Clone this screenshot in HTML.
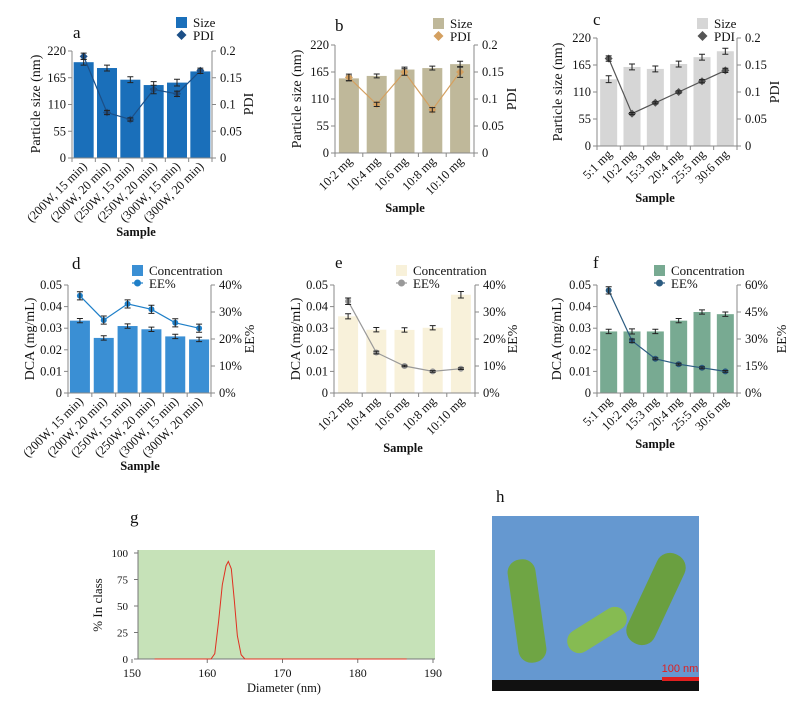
<!DOCTYPE html>
<html><head><meta charset="utf-8"><style>
html,body{margin:0;padding:0;background:#fff;}
svg{display:block;font-family:"Liberation Serif",serif;}
</style></head><body>
<svg id="fig" width="801" height="701" viewBox="0 0 801 701"></svg>
<script>
// ---------- data ----------
const aCats=["(200W, 15 min)","(200W, 20 min)","(250W, 15 min)","(250W, 20 min)","(300W, 15 min)","(300W, 20 min)"];
const aSize=[197,185,161,150,155,178];
const aSizeErr=[6,6,6,7,7,4];
const aPdi=[0.19,0.085,0.072,0.128,0.12,0.163];
const aPdiErr=[0.006,0.004,0.003,0.008,0.005,0.005];

const bCats=["10:2 mg","10:4 mg","10:6 mg","10:8 mg","10:10 mg"];
const bSize=[152,157,170,173,181];
const bSizeErr=[5,4,5,4,6];
const bPdi=[0.14,0.09,0.15,0.08,0.15];
const bPdiErr=[0.006,0.004,0.006,0.004,0.01];

const cCats=["5:1 mg","10:2 mg","15:3 mg","20:4 mg","25:5 mg","30:6 mg"];
const cSize=[136,161,157,167,181,193];
const cSizeErr=[7,6,6,6,6,6];
const cPdi=[0.162,0.06,0.08,0.1,0.12,0.14];
const cPdiErr=[0.005,0.002,0.002,0.002,0.003,0.004];

const dCats=aCats;
const dConc=[0.0335,0.0255,0.031,0.0295,0.0262,0.0248];
const dConcErr=[0.001,0.001,0.001,0.001,0.001,0.001];
const dEE=[36,27,33,31,26,24];
const dEEErr=[1.5,1.5,1.5,1.5,1.5,1.5];

const eCats=bCats;
const eConc=[0.0355,0.0293,0.0292,0.0302,0.0455];
const eConcErr=[0.0012,0.001,0.001,0.001,0.0015];
const eEE=[34,15,10,8,9];
const eEEErr=[1.2,0.5,0.3,0.3,0.3];

const fCats=cCats;
const fConc=[0.0285,0.0285,0.0285,0.0335,0.0375,0.0365];
const fConcErr=[0.001,0.0012,0.001,0.001,0.001,0.001];
const fEE=[57,29,19,16,14,12];
const fEEErr=[2,1,0.5,0.5,0.5,0.5];

const gX=[153,160.5,161,161.5,162,162.5,162.8,163.2,163.6,164,164.5,165,170,186.5];
const gY=[0,0,5,35,70,88,92,85,55,22,4,0,0,0];
const gXTicks=[150,160,170,180,190];
const gYTicks=[0,25,50,75,100];

// ---------- helpers ----------
const NS="http://www.w3.org/2000/svg";
const svg=document.getElementById('fig');
function mk(tag,attrs,parent,txt){const e=document.createElementNS(NS,tag);for(const k in attrs)e.setAttribute(k,attrs[k]);if(txt!==undefined)e.textContent=txt;(parent||svg).appendChild(e);return e;}

function panel(c){
  const g=mk('g',{});
  
  
  const yL=v=>c.yBot-(v/c.lMax)*(c.yBot-c.yTop);
  const yR=v=>c.yBot-(v/c.rMax)*(c.yBot-c.yTop);
  const n=c.cats.length;
  const step=(c.xR-c.xL)/n;
  const xC=i=>c.xL+step*(i+0.5);
  c.bars.forEach((v,i)=>{
    const r=mk('rect',{x:xC(i)-c.bw/2,y:yL(v),width:c.bw,height:c.yBot-yL(v),fill:c.barColor},g);
    
    
    const e=c.barErr[i];
    mk('path',{d:`M${xC(i)},${yL(v+e)}V${yL(v-e)}M${xC(i)-3},${yL(v+e)}h6M${xC(i)-3},${yL(v-e)}h6`,stroke:'#222','stroke-width':1,fill:'none'},g);
  });
  const ax=mk('g',{stroke:'#888','stroke-width':1,fill:'none'},g);
  mk('path',{d:`M${c.xL},${c.yTop}V${c.yBot}H${c.xR}V${c.yTop}`},ax);
  c.lTicks.forEach(t=>{const y=yL(t);mk('path',{d:`M${c.xL-4},${y}H${c.xL}`},ax);
    mk('text',{x:c.xL-6,y:y+4,'text-anchor':'end','font-size':12.5,fill:'#111'},g,c.lFmt(t));});
  c.rTicks.forEach(t=>{const y=yR(t);mk('path',{d:`M${c.xR},${y}H${c.xR+4}`},ax);
    mk('text',{x:c.xR+8,y:y+4,'text-anchor':'start','font-size':12.5,fill:'#111'},g,c.rFmt(t));});
  for(let i=0;i<=n;i++){mk('path',{d:`M${c.xL+step*i},${c.yBot}v4`},ax);}
  const pts=c.line.map((v,i)=>`${xC(i)},${yR(v)}`).join(' ');
  const pl=mk('polyline',{points:pts,fill:'none',stroke:c.lineColor,'stroke-width':1.2},g);
  
  
  c.line.forEach((v,i)=>{
    const x=xC(i),y=yR(v);
    if(c.marker==='diamond'){const m=mk('path',{d:`M${x},${y-4}l4,4l-4,4l-4,-4z`,fill:c.lineColor},g);
      
      }
    else{const m=mk('circle',{cx:x,cy:y,r:3,fill:c.lineColor},g);
      
      }
    const e=c.lineErr[i];
    mk('path',{d:`M${x},${yR(v+e)}V${yR(v-e)}M${x-3},${yR(v+e)}h6M${x-3},${yR(v-e)}h6`,stroke:'#222','stroke-width':1,fill:'none'},g);
  });
  c.cats.forEach((t,i)=>{
    const x=xC(i)+4,y=c.yBot+9;
    const tx=mk('text',{x:x,y:y,'text-anchor':'end','font-size':12.5,fill:'#111',transform:`rotate(-45 ${x} ${y})`},g,t);
    
    
  });
  const s=mk('text',{x:c.sample[0],y:c.sample[1],'text-anchor':'middle','font-size':12.5,'font-weight':'bold',fill:'#111'},g,'Sample');
  
  
  const ly=mk('text',{x:c.lLab[0],y:c.lLab[1],'text-anchor':'middle','font-size':14,fill:'#111',transform:`rotate(-90 ${c.lLab[0]} ${c.lLab[1]})`},g,c.lTitle);
  
  
  const ry=mk('text',{x:c.rLab[0],y:c.rLab[1],'text-anchor':'middle','font-size':14,fill:'#111',transform:`rotate(-90 ${c.rLab[0]} ${c.rLab[1]})`},g,c.rTitle);
  
  
  const tt=mk('text',{x:c.title[0],y:c.title[1],'font-size':17,fill:'#111'},g,c.id);
  
  
  const [lx,lyy]=c.legend;
  const lg=mk('g',{},g);
  
  
  mk('rect',{x:lx,y:lyy-5,width:11,height:11,fill:c.barColor},lg);
  mk('text',{x:lx+17,y:lyy+5,'font-size':13,fill:'#111'},lg,c.leg1);
  if(c.marker==='diamond') mk('path',{d:`M${lx+5.5},${lyy+8}l5,5l-5,5l-5,-5z`,fill:c.lineColor},lg);
  else{mk('path',{d:`M${lx},${lyy+13}h11`,stroke:c.lineColor,'stroke-width':1.2},lg);mk('circle',{cx:lx+5.5,cy:lyy+13,r:3.5,fill:c.lineColor},lg);}
  mk('text',{x:lx+17,y:lyy+18,'font-size':13,fill:'#111'},lg,c.leg2);
}
const fmt=t=>String(t);
const pct=t=>t+'%';

panel({id:'a',xL:72,xR:212,yTop:51,yBot:158,lMax:220,rMax:0.2,lTicks:[0,55,110,165,220],rTicks:[0,0.05,0.1,0.15,0.2],lFmt:fmt,rFmt:fmt,
 cats:aCats,bars:aSize,barErr:aSizeErr,line:aPdi,lineErr:aPdiErr,bw:20,barColor:'#1a6fba',lineColor:'#1c4f87',marker:'diamond',
 sample:[136,236],lLab:[40,104],rLab:[253,104],lTitle:'Particle size (nm)',rTitle:'PDI',title:[73,38],legend:[176,22],leg1:'Size',leg2:'PDI'});
panel({id:'b',xL:335,xR:474,yTop:45,yBot:153,lMax:220,rMax:0.2,lTicks:[0,55,110,165,220],rTicks:[0,0.05,0.1,0.15,0.2],lFmt:fmt,rFmt:fmt,
 cats:bCats,bars:bSize,barErr:bSizeErr,line:bPdi,lineErr:bPdiErr,bw:20,barColor:'#bfb89a',lineColor:'#d4a060',marker:'diamond',
 sample:[405,212],lLab:[301,99],rLab:[516,99],lTitle:'Particle size (nm)',rTitle:'PDI',title:[335,31],legend:[433,23],leg1:'Size',leg2:'PDI'});
panel({id:'c',xL:597,xR:737,yTop:38,yBot:146,lMax:220,rMax:0.2,lTicks:[0,55,110,165,220],rTicks:[0,0.05,0.1,0.15,0.2],lFmt:fmt,rFmt:fmt,
 cats:cCats,bars:cSize,barErr:cSizeErr,line:cPdi,lineErr:cPdiErr,bw:17,barColor:'#d6d6d6',lineColor:'#555',marker:'diamond',
 sample:[655,202],lLab:[562,92],rLab:[779,92],lTitle:'Particle size (nm)',rTitle:'PDI',title:[593,25],legend:[697,23],leg1:'Size',leg2:'PDI'});
panel({id:'d',xL:68,xR:211,yTop:285,yBot:393,lMax:0.05,rMax:40,lTicks:[0,0.01,0.02,0.03,0.04,0.05],rTicks:[0,10,20,30,40],lFmt:fmt,rFmt:pct,
 cats:dCats,bars:dConc,barErr:dConcErr,line:dEE,lineErr:dEEErr,bw:20,barColor:'#3a8fd4',lineColor:'#1e7fc8',marker:'circle',
 sample:[140,470],lLab:[34,339],rLab:[254,339],lTitle:'DCA  (mg/mL)',rTitle:'EE%',title:[72,269],legend:[132,270],leg1:'Concentration',leg2:'EE%'});
panel({id:'e',xL:334,xR:475,yTop:285,yBot:393,lMax:0.05,rMax:40,lTicks:[0,0.01,0.02,0.03,0.04,0.05],rTicks:[0,10,20,30,40],lFmt:fmt,rFmt:pct,
 cats:eCats,bars:eConc,barErr:eConcErr,line:eEE,lineErr:eEEErr,bw:20,barColor:'#f8f1da',lineColor:'#999',marker:'circle',
 sample:[403,452],lLab:[300,339],rLab:[517,339],lTitle:'DCA (mg/mL)',rTitle:'EE%',title:[335,268],legend:[396,270],leg1:'Concentration',leg2:'EE%'});
panel({id:'f',xL:597,xR:737,yTop:285,yBot:393,lMax:0.05,rMax:60,lTicks:[0,0.01,0.02,0.03,0.04,0.05],rTicks:[0,15,30,45,60],lFmt:fmt,rFmt:pct,
 cats:fCats,bars:fConc,barErr:fConcErr,line:fEE,lineErr:fEEErr,bw:17,barColor:'#78aa92',lineColor:'#2b5b80',marker:'circle',
 sample:[655,448],lLab:[561,339],rLab:[786,339],lTitle:'DCA (mg/mL)',rTitle:'EE%',title:[593,268],legend:[654,270],leg1:'Concentration',leg2:'EE%'});

// ---------- panel g ----------
(function(){
  const g=mk('g',{});
  
  
  const x0=132,x1=433,yT=553,yB=659;
  const xs=v=>x0+(v-150)/40*(x1-x0);
  const ys=v=>yB-v/100*(yB-yT);
  mk('rect',{x:138,y:550,width:297,height:109,fill:'#c6e2b8'},g);
  mk('path',{d:`M138,${yT-3}V${yB}H435`,stroke:'#777',fill:'none','stroke-width':1},g);
  gYTicks.forEach(t=>{mk('path',{d:`M134,${ys(t)}h4`,stroke:'#777'},g);
    mk('text',{x:128,y:ys(t)+4,'text-anchor':'end','font-size':11,fill:'#111'},g,t);});
  gXTicks.forEach(t=>{mk('path',{d:`M${xs(t)},${yB}v4`,stroke:'#777'},g);
    mk('text',{x:xs(t),y:yB+18,'text-anchor':'middle','font-size':12,fill:'#111'},g,t);});
  const pl=mk('polyline',{points:gX.map((v,i)=>`${xs(v)},${ys(gY[i])}`).join(' '),fill:'none',stroke:'#e03020','stroke-width':1},g);
  
  
  const xt=mk('text',{x:284,y:692,'text-anchor':'middle','font-size':12.5,fill:'#111'},g,'Diameter (nm)');
  
  
  const yt=mk('text',{x:102,y:605,'text-anchor':'middle','font-size':13,fill:'#111',transform:'rotate(-90 102 605)'},g,'%  In class');
  
  
  const tt=mk('text',{x:130,y:523,'font-size':17,fill:'#111'},g,'g');
  
  
})();

// ---------- panel h (TEM image) ----------
(function(){
  const g=mk('g',{});
  
  
  mk('rect',{x:492,y:516,width:207,height:175,fill:'#6598d0'},g);
  mk('rect',{x:513,y:559,width:28,height:104,rx:13,fill:'#6fa544',transform:'rotate(-8 527 611)'},g);
  mk('rect',{x:641,y:550,width:30,height:98,rx:14,fill:'#6a9f40',transform:'rotate(25 656 599)'},g);
  mk('rect',{x:585,y:597,width:24,height:66,rx:12,fill:'#86bb52',transform:'rotate(58 597 630)'},g);
  mk('rect',{x:492,y:680,width:207,height:11,fill:'#111'},g);
  mk('rect',{x:662,y:677,width:37,height:4,fill:'#e02020'},g);
  const sb=mk('text',{x:680,y:672,'text-anchor':'middle','font-size':11,'font-family':'Liberation Sans, sans-serif',fill:'#e02020'},g,'100 nm');
  
  
  const tt=mk('text',{x:496,y:502,'font-size':17,fill:'#111'},g,'h');
  
  
})();
</script>
</body></html>
